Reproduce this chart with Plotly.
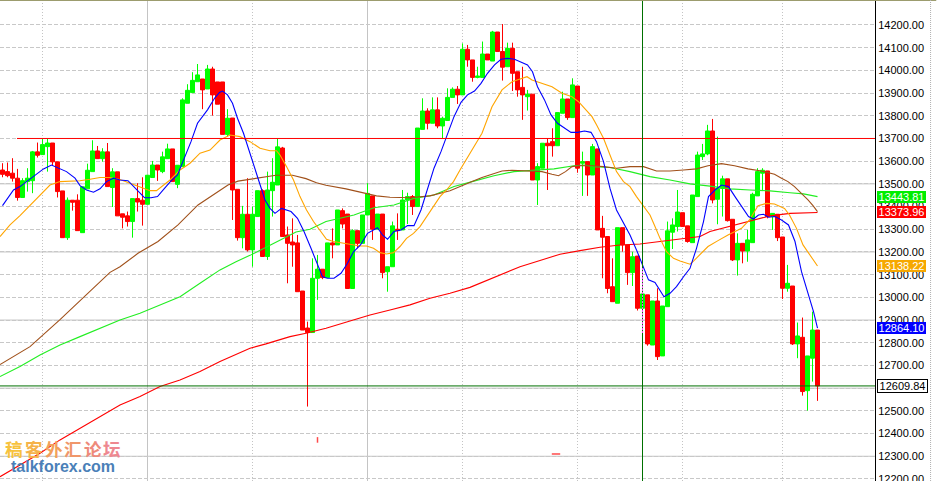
import plotly.graph_objects as go

# ---------------- data ----------------
OPEN = [
    13561, 13554, 13547, 13525, 13440, 13510, 13514, 13641, 13629, 13664,
    13680, 13597, 13469, 13263, 13428, 13428, 13285, 13478, 13554, 13645,
    13611, 13641, 13484, 13553, 13368, 13359, 13334, 13435, 13428, 13410,
    13528, 13583, 13554, 13611, 13654, 13498, 13576, 13855, 13902, 13950,
    13962, 13918, 14006, 13949, 13949, 13718, 13790, 13476, 13263, 13366,
    13209, 13356, 13470, 13180, 13470, 13495, 13658, 13275, 13244, 13240,
    13028, 12865, 12845, 13084, 13124, 13087, 13240, 13231, 13382, 13367,
    13039, 13294, 13238, 13363, 13447, 13300, 13367, 13113, 13135, 13300,
    13297, 13429, 13444, 13400, 13740, 13821, 13767, 13826, 13755, 13779,
    13881, 13917, 13892, 14093, 14046, 13969, 13969, 14072, 14041, 14169,
    14083, 14016, 14097, 13994, 13925, 13884, 13895, 13517, 13569, 13679,
    13686, 13668, 13811, 13874, 13792, 13931, 13591, 13598, 13539, 13654,
    13304, 13268, 13047, 12974, 13307, 13231, 13109, 13182, 12952, 13011,
    12790, 12984, 12742, 12959, 13287, 13312, 13373, 13315, 13241, 13444,
    13620, 13632, 13733, 13432, 13480, 13522, 13344, 13165, 13238, 13204,
    13241, 13447, 13547, 13557, 13356, 13366, 13266, 13040, 13050, 12795,
    12824, 12589, 12732, 12856,
]
HIGH = [
    13591, 13594, 13613, 13566, 13525, 13569, 13645, 13682, 13698, 13698,
    13680, 13597, 13469, 13440, 13428, 13454, 13487, 13589, 13692, 13667,
    13657, 13680, 13569, 13553, 13368, 13378, 13435, 13503, 13529, 13538,
    13601, 13583, 13642, 13677, 13654, 13582, 13877, 13939, 13992, 14028,
    13962, 14024, 14016, 13949, 13949, 13829, 13790, 13476, 13403, 13525,
    13400, 13470, 13476, 13554, 13613, 13701, 13663, 13312, 13348, 13275,
    13028, 12893, 13172, 13187, 13124, 13240, 13304, 13385, 13392, 13367,
    13300, 13294, 13363, 13503, 13447, 13367, 13367, 13135, 13334, 13370,
    13473, 13461, 13451, 13746, 13877, 13833, 13881, 13881, 13796, 13921,
    13925, 13931, 14119, 14112, 14046, 14016, 14127, 14072, 14174, 14169,
    14204, 14122, 14122, 13994, 14016, 13914, 13895, 13591, 13679, 13701,
    13745, 13814, 13906, 13874, 13965, 13931, 13642, 13598, 13676, 13654,
    13359, 13268, 13172, 13307, 13307, 13231, 13201, 13182, 13015, 13011,
    12984, 13040, 12962, 13334, 13348, 13473, 13373, 13315, 13451, 13642,
    13676, 13760, 13786, 13708, 13536, 13522, 13344, 13282, 13238, 13297,
    13461, 13569, 13569, 13557, 13370, 13366, 13266, 13143, 13050, 12889,
    12911, 12742, 12937, 12856,
]
LOW = [
    13529, 13529, 13510, 13426, 13440, 13466, 13459, 13616, 13629, 13554,
    13580, 13440, 13263, 13253, 13382, 13294, 13285, 13478, 13554, 13611,
    13598, 13488, 13398, 13359, 13304, 13312, 13263, 13378, 13316, 13410,
    13528, 13513, 13547, 13611, 13510, 13481, 13576, 13855, 13902, 13950,
    13829, 13918, 13801, 13851, 13718, 13708, 13341, 13250, 13216, 13202,
    13135, 13356, 13180, 13165, 13356, 13495, 13268, 13062, 13135, 13025,
    12856, 12519, 12845, 12989, 13080, 13087, 13172, 13231, 13304, 13039,
    13039, 13216, 13238, 13363, 13253, 13300, 13084, 13025, 13135, 13253,
    13297, 13323, 13363, 13400, 13740, 13740, 13767, 13745, 13701, 13779,
    13881, 13852, 13892, 14016, 13950, 13965, 13969, 14046, 14041, 14083,
    13955, 14016, 13909, 13884, 13782, 13823, 13517, 13407, 13569, 13473,
    13620, 13668, 13811, 13782, 13792, 13549, 13447, 13447, 13539, 13297,
    13084, 13018, 12981, 12974, 13201, 13055, 13050, 12942, 12952, 12787,
    12790, 12724, 12742, 12959, 13213, 13290, 13312, 13241, 13241, 13444,
    13605, 13626, 13414, 13322, 13356, 13334, 13160, 13096, 13150, 13157,
    13241, 13447, 13473, 13348, 13297, 13248, 12993, 13025, 12790, 12732,
    12567, 12501, 12629, 12544,
]
CLOSE = [
    13542, 13536, 13525, 13440, 13514, 13525, 13641, 13626, 13673, 13680,
    13597, 13466, 13263, 13428, 13419, 13294, 13487, 13560, 13645, 13611,
    13641, 13488, 13553, 13359, 13353, 13334, 13435, 13420, 13410, 13538,
    13583, 13561, 13619, 13654, 13510, 13582, 13870, 13912, 13956, 13980,
    13914, 14006, 13892, 13851, 13718, 13789, 13473, 13263, 13366, 13209,
    13366, 13470, 13180, 13473, 13507, 13663, 13268, 13238, 13231, 13025,
    12856, 12845, 13084, 13124, 13087, 13240, 13231, 13385, 13323, 13039,
    13294, 13238, 13363, 13458, 13300, 13367, 13109, 13135, 13315, 13294,
    13429, 13444, 13400, 13746, 13821, 13767, 13826, 13755, 13789, 13881,
    13917, 13892, 14093, 14046, 13969, 13975, 14072, 14046, 14169, 14083,
    14014, 14097, 13987, 13914, 13892, 13895, 13517, 13576, 13679, 13668,
    13668, 13814, 13874, 13792, 13936, 13569, 13598, 13539, 13664, 13297,
    13265, 13039, 12981, 13307, 13231, 13109, 13179, 12952, 13015, 12795,
    12984, 12739, 12962, 13293, 13319, 13376, 13312, 13246, 13451, 13627,
    13632, 13733, 13429, 13480, 13522, 13338, 13165, 13238, 13204, 13253,
    13454, 13554, 13560, 13356, 13370, 13263, 13040, 13062, 12795, 12830,
    12585, 12742, 12856, 12609.84,
]
BAR_INDEX = list(range(len(CLOSE)))

# moving averages as (bar index, value)
MA_BLUE = [
    (0, 13404), (2.2, 13473), (3.5, 13488), (6.2, 13535), (8.2, 13566), (9.8, 13583),
    (11.2, 13569), (12.8, 13554), (14.5, 13525), (15.5, 13492), (16.8, 13473), (18.2, 13463),
    (19.5, 13478), (20.8, 13510), (22.2, 13525), (23.5, 13517), (25.1, 13514), (27.1, 13466),
    (28.4, 13439), (29.7, 13439), (31, 13444), (32.4, 13480), (33.7, 13513), (35, 13539),
    (36.4, 13613), (37.7, 13686), (39, 13767), (41, 13826), (42.4, 13877), (43.4, 13903),
    (44, 13909), (45, 13892), (46, 13855), (47, 13789), (48.2, 13723), (50.2, 13583),
    (51.5, 13488), (52.5, 13429), (53.5, 13392), (54.5, 13370), (55.8, 13392), (57.7, 13378),
    (59, 13348), (60.3, 13290), (61.7, 13216), (63, 13150), (64, 13091), (65, 13084),
    (66.3, 13084), (67.7, 13106), (69, 13150), (70.2, 13201), (71.6, 13231), (73, 13282),
    (75, 13307), (76, 13275), (77, 13256), (78.3, 13290), (79.7, 13297), (81, 13316),
    (82.3, 13316), (83.7, 13385), (85, 13480), (86.3, 13569), (87.7, 13642), (89, 13723),
    (90.3, 13796), (91.7, 13859), (93, 13892), (94.4, 13909), (95.7, 13943), (97, 13987),
    (98.4, 14024), (99.7, 14049), (101, 14053), (102.4, 14049), (103.7, 14038), (105, 14024),
    (106, 13994), (107, 13928), (108.4, 13870), (109.7, 13804), (111, 13767), (112.4, 13745),
    (113.7, 13727), (115, 13727), (116.4, 13733), (117.7, 13727), (118.8, 13686), (120.2, 13598),
    (121.5, 13480), (122.8, 13385), (124.2, 13326), (125.5, 13275), (126.8, 13209), (128.2, 13128),
    (129.2, 13077), (130.5, 13066), (131.5, 13033), (132.3, 13003), (133.5, 13018), (134.8, 13047),
    (136.2, 13091), (137.5, 13128), (138.8, 13216), (140.2, 13334), (141.2, 13444), (142.5, 13473),
    (143.8, 13495), (145.2, 13488), (146.5, 13444), (147.8, 13400), (149.2, 13356), (150.2, 13345),
    (151.2, 13363), (152.2, 13366), (153.2, 13353), (154.5, 13356), (155.8, 13341), (157.2, 13319),
    (158.5, 13246), (159.8, 13113), (161.2, 13011), (162.2, 12937), (163, 12864.10),
]
MA_ORANGE = [
    (-0.5, 13268), (1.5, 13319), (3.5, 13360), (5.5, 13404), (7.5, 13448), (9.5, 13495),
    (11.5, 13510), (13.5, 13512), (15.5, 13514), (17.5, 13520), (19.5, 13528), (21.5, 13528),
    (23.5, 13519), (25.5, 13503), (27.5, 13488), (29.5, 13470), (30.8, 13470), (32.2, 13495),
    (33.5, 13517), (35.5, 13561), (37.5, 13591), (39.5, 13635), (41.5, 13649), (43.5, 13693),
    (45.5, 13715), (47.5, 13708), (49.5, 13686), (51.5, 13657), (53.5, 13646), (54.8, 13646),
    (55.5, 13627), (56.8, 13576), (58.2, 13517), (59.5, 13444), (60.8, 13385), (62.2, 13334),
    (63.5, 13297), (64.8, 13256), (66.2, 13246), (67.5, 13241), (68.8, 13238), (70.2, 13231),
    (71.5, 13226), (72.8, 13226), (74.2, 13216), (75.5, 13197), (76.8, 13191), (78.2, 13197),
    (79.5, 13224), (80.8, 13260), (82.2, 13282), (83.5, 13312), (84.8, 13356), (86.2, 13400),
    (87.5, 13444), (88.8, 13473), (90.2, 13510), (91.5, 13561), (93.9, 13649), (95.9, 13723),
    (97.9, 13840), (99.9, 13914), (101.9, 13950), (103.9, 13965), (104.9, 13972), (105.9, 13958),
    (107.9, 13943), (109.9, 13928), (111.9, 13899), (113.9, 13884), (115.2, 13862), (116.6, 13826),
    (117.9, 13796), (118.8, 13760), (120.2, 13701), (121.5, 13627), (122.8, 13554), (124.2, 13510),
    (125.5, 13488), (126.8, 13444), (128.2, 13400), (129.5, 13363), (130.5, 13312), (131.5, 13260),
    (132.8, 13201), (134.2, 13172), (135.5, 13160), (137.5, 13146), (138.2, 13160), (139.5, 13187),
    (141.1, 13224), (143.1, 13250), (145.1, 13275), (147.8, 13304), (149.4, 13341), (151.1, 13404),
    (152.8, 13414), (154.4, 13411), (156.4, 13392), (157.4, 13363), (158.8, 13304), (160.1, 13231),
    (161.4, 13187), (163, 13138.22),
]
MA_BROWN = [
    (-0.5, 12704), (5.5, 12783), (11.5, 12902), (17.5, 13025), (21.5, 13110), (23.5, 13135),
    (27.1, 13194), (31.1, 13246), (35.1, 13319), (39.1, 13407), (43.1, 13466), (45.1, 13495),
    (47.1, 13512), (50.7, 13525), (54.7, 13538), (58, 13538), (60.7, 13523), (62.8, 13505),
    (64.7, 13494), (68.7, 13478), (70.7, 13468), (72.2, 13461), (74.8, 13447), (77.5, 13441),
    (81.5, 13439), (85.5, 13447), (89.5, 13470), (93.9, 13510), (95.9, 13528), (97.9, 13542),
    (99.9, 13557), (101.9, 13560), (105.9, 13557), (107.9, 13554), (109.9, 13542), (111.2, 13536),
    (112.6, 13554), (113.9, 13576), (115.2, 13580), (117.9, 13580), (120.2, 13576), (122.8, 13569),
    (125.5, 13576), (128.2, 13576), (130.8, 13557), (133.5, 13557), (136.2, 13561), (138.8, 13566),
    (141.1, 13580), (143.8, 13589), (146.4, 13580), (149.1, 13566), (151.8, 13557), (154.4, 13542),
    (155.8, 13525), (157.1, 13510), (158.4, 13488), (159.8, 13458), (161.1, 13429), (162.1, 13404),
    (163, 13378),
]
MA_GREEN = [
    (-0.5, 12651), (3.5, 12695), (7.5, 12746), (11.5, 12790), (15.5, 12827), (19.5, 12864),
    (23.5, 12900), (27.5, 12930), (31.5, 12967), (35.5, 13003), (39.5, 13062), (43.5, 13121),
    (46.7, 13157), (49.5, 13185), (53.5, 13230), (58.7, 13288), (61.5, 13300), (64.7, 13334),
    (70.3, 13363), (74.3, 13395), (78.3, 13407), (82.3, 13436), (86.3, 13451), (90.3, 13488),
    (94.3, 13512), (98.3, 13536), (102.3, 13554), (106.3, 13560), (110.3, 13566), (114.3, 13580),
    (116.3, 13583), (118.3, 13576), (121.5, 13572), (125.5, 13554), (129.5, 13532), (133.5, 13517),
    (137.5, 13500), (141.5, 13490), (145.5, 13478), (149.5, 13473), (153.5, 13469), (157.5, 13461),
    (160.2, 13456), (163, 13443.81),
]
MA_RED = [
    (-0.5, 12210), (3.5, 12262), (7.5, 12313), (11.5, 12372), (15.5, 12423), (19.5, 12475),
    (23.5, 12526), (27.5, 12563), (31.5, 12607), (35.5, 12636), (39.5, 12673), (43.5, 12717),
    (46.7, 12750), (49.5, 12776), (52.7, 12795), (57.5, 12827), (60.7, 12842), (64.7, 12864),
    (69.5, 12896), (73.5, 12922), (77.5, 12944), (81.5, 12967), (85.5, 12996), (89.5, 13018),
    (93.5, 13044), (95.5, 13062), (99.5, 13099), (103.5, 13135), (107.5, 13162), (111.5, 13190),
    (115.5, 13206), (119.5, 13221), (123.5, 13231), (127.5, 13235), (131.5, 13246), (135.5, 13256),
    (139.5, 13268), (141.5, 13290), (145.5, 13312), (149.5, 13334), (153.5, 13359), (157.5, 13370),
    (160.2, 13373), (163, 13373.96),
]

# axis
Y_TICK_START, Y_TICK_END, Y_TICK_STEP = 12200, 14200, 100
Y_TICKS = list(range(Y_TICK_START, Y_TICK_END + 1, Y_TICK_STEP))
SOLID_LEVELS = [12300, 12600, 12900, 13200, 13500]
RESIST_LEVEL = 13700
RESIST_START = 2.9
LAST_PRICE = 12609.84
CURSOR_BAR = 128
CURSOR_SEG = (13129, 12843)
VGRID_SOLID = [29, 73]
VGRID_DOTTED = [8, 50, 92, 115, 136, 156]
MARK_X = [63, 110.7]
MARK_Y = [12372, 12310]
TAGS = [
    ("13443.81", 13443.81, "#00ee00", "white", None),
    ("13373.96", 13373.96, "#ff0000", "white", None),
    ("13138.22", 13138.22, "#f6a800", "white", None),
    ("12864.10", 12864.10, "#0000ff", "white", None),
    ("12609.84", 12609.84, "white", "black", "black"),
]
WM_CHARS = ["稿", "客", "外", "汇", "论", "坛"]
WM_COLORS = ["#f7c23c", "#f5b24a", "#f2a05a", "#f0966a", "#ee8a7a", "#ee8890"]

FONT = "Liberation Sans, Arial, sans-serif"
W, H = 937, 481
PLOT_W = 875

fig = go.Figure()

fig.add_trace(go.Candlestick(
    x=BAR_INDEX, open=OPEN, high=HIGH, low=LOW, close=CLOSE,
    increasing=dict(line=dict(color="#00ff00", width=1), fillcolor="#00ff00"),
    decreasing=dict(line=dict(color="#ff0000", width=1), fillcolor="#ff0000"),
    whiskerwidth=0, hoverinfo="skip", showlegend=False,
))

for series, color in [(MA_RED, "#ff0000"), (MA_GREEN, "#22ee22"), (MA_BROWN, "#a0501a"),
                      (MA_ORANGE, "#ffa500"), (MA_BLUE, "#0000ff")]:
    fig.add_trace(go.Scatter(
        x=[p[0] for p in series], y=[p[1] for p in series], mode="lines",
        line=dict(color=color, width=1.1), hoverinfo="skip", showlegend=False,
    ))

fig.add_trace(go.Scatter(
    x=MARK_X, y=MARK_Y, mode="markers",
    marker=dict(symbol=["line-ns", "line-ew"], size=[4, 6], color="red",
                line=dict(color="red", width=1.5)),
    hoverinfo="skip", showlegend=False,
))

shapes = []
for lv in SOLID_LEVELS:
    shapes.append(dict(type="line", xref="paper", x0=0, x1=1, yref="y", y0=lv, y1=lv,
                       line=dict(color="#c4c4c4", width=1), layer="below"))
for xv in VGRID_SOLID:
    shapes.append(dict(type="line", xref="x", x0=xv, x1=xv, yref="paper", y0=0, y1=1,
                       line=dict(color="#c4c4c4", width=1), layer="below"))
for xv in VGRID_DOTTED:
    shapes.append(dict(type="line", xref="x", x0=xv, x1=xv, yref="paper", y0=0, y1=1,
                       line=dict(color="#c4c4c4", width=1, dash="1px,2px"), layer="below"))
# resistance line
shapes.append(dict(type="line", xref="x", x0=RESIST_START, x1=174.5, yref="y",
                   y0=RESIST_LEVEL, y1=RESIST_LEVEL, line=dict(color="#ff0000", width=1)))
# last price line
shapes.append(dict(type="line", xref="paper", x0=0, x1=1, yref="y",
                   y0=LAST_PRICE, y1=LAST_PRICE, line=dict(color="#007000", width=1)))
# cursor vertical line
shapes.append(dict(type="line", xref="x", x0=CURSOR_BAR, x1=CURSOR_BAR, yref="paper",
                   y0=0, y1=1, line=dict(color="#007000", width=1)))
shapes.append(dict(type="line", xref="x", x0=CURSOR_BAR, x1=CURSOR_BAR, yref="y",
                   y0=CURSOR_SEG[0], y1=CURSOR_SEG[1],
                   line=dict(color="#ff55ff", width=1, dash="2px,1px")))
# top frame line
shapes.append(dict(type="line", xref="paper", x0=0, x1=1.07, yref="paper", y0=0.999, y1=0.999,
                   line=dict(color="#9a9a6a", width=1)))
# window edge at far right
shapes.append(dict(type="line", xref="paper", x0=1.0635, x1=1.0635, yref="paper", y0=0, y1=1,
                   line=dict(color="#b0b0b0", width=1, dash="1px,1px")))

annotations = []
for text, val, bg, fg, border in TAGS:
    annotations.append(dict(
        x=1, xref="paper", xanchor="left", xshift=2, y=val, yref="y", yanchor="middle",
        text=text, showarrow=False, bgcolor=bg,
        bordercolor=border if border else bg, borderwidth=1 if border else 0, borderpad=0,
        width=49, height=12, align="center",
        font=dict(family=FONT, size=11, color=fg),
    ))

# watermark
wm_x0 = 14.5
for i, (ch, col) in enumerate(zip(WM_CHARS, WM_COLORS)):
    annotations.append(dict(
        x=(wm_x0 + 19.6 * i) / PLOT_W, xref="paper", xanchor="center",
        y=1 - 448 / H, yref="paper", yanchor="middle",
        text="<b>" + ch + "</b>", showarrow=False,
        font=dict(family="Noto Sans CJK SC", size=17.5, color=col),
    ))
annotations.append(dict(
    x=9 / PLOT_W, xref="paper", xanchor="left", y=1 - 466 / H, yref="paper", yanchor="middle",
    text="<b>talkforex.com</b>", showarrow=False,
    font=dict(family=FONT, size=16, color="#4a80b8"),
))

fig.update_layout(
    template="none",
    width=W, height=H,
    margin=dict(l=0, r=W - PLOT_W, t=0, b=0, pad=0, autoexpand=False),
    paper_bgcolor="white", plot_bgcolor="white",
    showlegend=False,
    boxgap=0.2, boxgroupgap=0,
    shapes=shapes, annotations=annotations,
    xaxis=dict(range=[-0.5, 174.5], showgrid=False, showticklabels=False, zeroline=False,
               showline=False, rangeslider=dict(visible=False), fixedrange=True,
               automargin=False),
    yaxis=dict(range=[12191, 14310], side="right", showline=True, linecolor="black",
               linewidth=1, ticks="", tickmode="array", tickvals=Y_TICKS,
               tickformat=".2f", showgrid=True, gridcolor="#c8c8c8", griddash="4px,2px",
               gridwidth=1, zeroline=False, fixedrange=True, automargin=False,
               ticklabeloverflow="allow",
               tickfont=dict(family=FONT, size=11, color="black")),
)

fig.write_html(
    "out.html",
    config={"displayModeBar": False},
    post_script="document.body.style.margin='0';document.body.style.overflow='hidden';",
)
